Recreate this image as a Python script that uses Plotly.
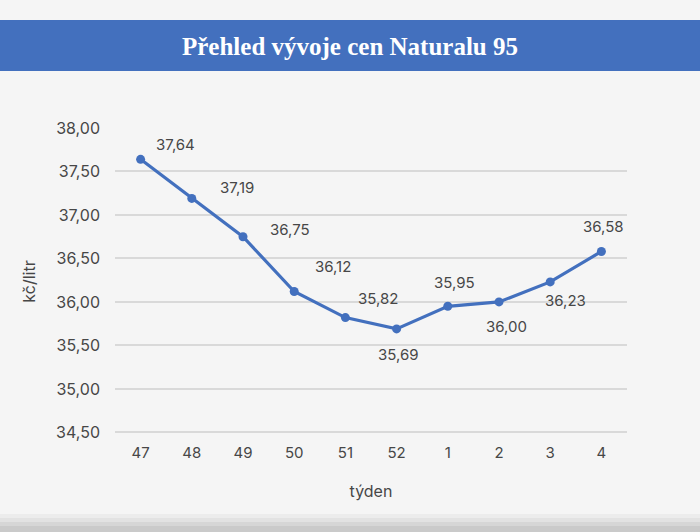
import plotly.graph_objects as go

# týden (week) and average price of Natural 95 in Kč per litre
weeks = ["47", "48", "49", "50", "51", "52", "1", "2", "3", "4"]
prices = [37.64, 37.19, 36.75, 36.12, 35.82, 35.69, 35.95, 36.00, 36.23, 36.58]

# label offsets (px) relative to each point
label_dx = [35, 45, 47, 39, 33, 2, 7, 7, 15, 2]
label_dy = [15, 11, 7, 25, 19, -26, 24, -25, -19, 25]

BLUE = "#4370be"
BG = "#f5f5f5"
TXT = "#474747"
SANS = "Inter, 'Noto Sans', sans-serif"

# plot area spans pixel rows 128..435
PB, PH = 435, 307

fig = go.Figure()
fig.add_trace(go.Scatter(
    x=weeks, y=prices, mode="lines+markers",
    line=dict(color=BLUE, width=3.2),
    marker=dict(color=BLUE, size=9),
    hoverinfo="x+y", showlegend=False,
))

# category axis: annotations are placed by category index
for i, (p, dx, dy) in enumerate(zip(prices, label_dx, label_dy)):
    fig.add_annotation(
        x=i, y=p, text=f"{p:.2f}".replace(".", ","), showarrow=False,
        xshift=dx, yshift=dy, font=dict(family=SANS, size=15, color=TXT),
    )

# blue title band across the top
fig.add_shape(type="rect", xref="paper", yref="paper",
              x0=-0.5, x1=1.5, y0=(PB - 71) / PH, y1=(PB - 20) / PH,
              fillcolor=BLUE, line_width=0, layer="below")
# soft shadow at the bottom edge
for i, c in enumerate(["#ececec", "#e2e2e2", "#d6d6d6", "#cacaca"]):
    fig.add_shape(type="rect", xref="paper", yref="paper",
                  x0=-0.5, x1=1.5, y0=(PB - 540) / PH,
                  y1=(PB - 514 - i * 4) / PH,
                  fillcolor=c, line_width=0, layer="below")

fig.update_layout(
    width=700, height=532,
    paper_bgcolor=BG, plot_bgcolor=BG,
    margin=dict(l=115, r=73, t=128, b=532 - PB),
    separators=", ",
    title=dict(text="<b>Přehled vývoje cen Naturalu 95</b>",
               x=0.5, xanchor="center", y=1 - 46 / 532, yanchor="middle",
               font=dict(family="'Liberation Serif', serif", size=25, color="white")),
    font=dict(family=SANS, color=TXT),
)
fig.update_xaxes(
    type="category", range=[-0.5, 9.5], showgrid=False, zeroline=False,
    showline=False, ticks="", ticklabelstandoff=7,
    tickfont=dict(size=15, color=TXT),
    title=dict(text="týden", font=dict(size=16, color=TXT), standoff=24),
)
fig.update_yaxes(
    range=[34.47, 38.0], tick0=34.5, dtick=0.5, tickformat=".2f",
    gridcolor="#d9d9d9", gridwidth=1.5, zeroline=False, showline=False,
    ticks="", ticklabelstandoff=14, tickfont=dict(size=16, color=TXT),
    title=dict(text="kč/litr", font=dict(size=16, color=TXT), standoff=16),
)

fig.write_html("out.html", config={"displayModeBar": False},
               post_script="document.body.style.margin='0';")
